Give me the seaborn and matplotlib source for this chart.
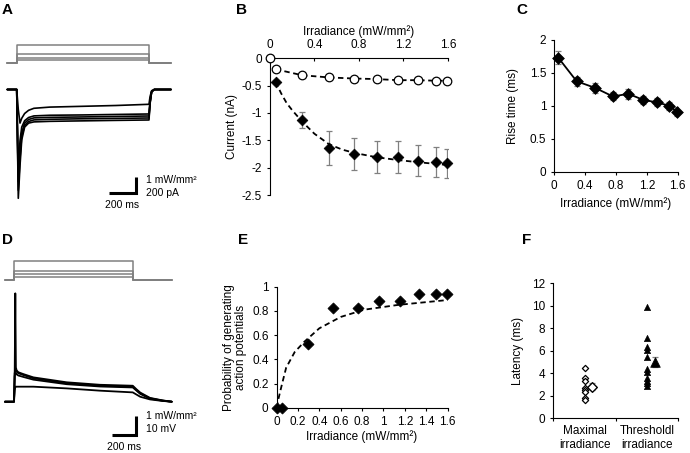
import numpy as np
import pandas as pd
import seaborn as sns
import matplotlib.pyplot as plt
from matplotlib.ticker import FuncFormatter, FixedLocator

# ---- data ----
irr = [0.05, 0.29, 0.53, 0.76, 0.96, 1.15, 1.33, 1.49, 1.59]  # mW/mm2

# B: peak / steady state current (nA)
b_peak = [-0.43, -1.13, -1.64, -1.75, -1.81, -1.80, -1.87, -1.90, -1.92]
b_peak_err = [0.04, 0.15, 0.31, 0.30, 0.29, 0.29, 0.28, 0.27, 0.27]
b_ss_x = [0.0, 0.05, 0.29, 0.53, 0.76, 0.96, 1.15, 1.33, 1.49, 1.59]
b_ss = [0.0, -0.20, -0.31, -0.35, -0.37, -0.38, -0.40, -0.40, -0.41, -0.41]
b_fit_x = [0.05, 0.1, 0.15, 0.2, 0.29, 0.4, 0.53, 0.65, 0.76, 0.96, 1.15, 1.33, 1.59]
b_fit_y = [-0.43, -0.64, -0.82, -0.95, -1.16, -1.38, -1.57, -1.67, -1.73, -1.81, -1.86, -1.90, -1.95]

# C: rise time (ms)
c_rise = [1.73, 1.37, 1.27, 1.14, 1.18, 1.09, 1.05, 1.00, 0.91]
c_rise_err = [0.10, 0.07, 0.08, 0.06, 0.08, 0.06, 0.06, 0.06, 0.07]

# E: probability of action potentials
e_x = [0.0, 0.05, 0.29, 0.53, 0.76, 0.96, 1.15, 1.33, 1.49, 1.59]
e_prob = [0.0, 0.0, 0.53, 0.82, 0.82, 0.88, 0.88, 0.94, 0.94, 0.94]
e_fit_x = [0.0, 0.02, 0.05, 0.09, 0.17, 0.26, 0.4, 0.6, 0.82, 1.14, 1.6]
e_fit_y = [0.0, 0.08, 0.19, 0.33, 0.46, 0.545, 0.656, 0.75, 0.81, 0.85, 0.89]

# F: latency (ms)
lat_max = [4.5, 3.55, 3.34, 2.66, 2.51, 2.31, 1.83, 1.63]
lat_thr = [9.91, 7.16, 6.36, 6.07, 5.47, 4.35, 4.14, 3.55, 3.31, 3.11, 2.90]
lat_mean = [2.81, 4.97]
lat_sem = [0.3, 0.45]
f_labels = ['Maximal\nirradiance', 'Thresholdl\nirradiance']

# stimulus (mW/mm2), on at 0 ms, off at 1000 ms
stim_levels = [1.0, 0.5, 0.31, 0.17]
stim_on, stim_off = 0, 1000

# A: photocurrents (pA)
a_t = [-71, 0, 12, 25, 38, 60, 90, 130, 250, 500, 750, 1000, 1008, 1020, 1040, 1166]
a_traces = [
    [0, 0, -250, -420, -360, -300, -260, -235, -220, -210, -200, -185, -90, -15, 0, 0],
    [0, 0, -1000, -640, -470, -390, -350, -330, -322, -318, -312, -306, -150, -25, 0, 0],
    [0, 0, -1150, -760, -540, -420, -375, -355, -348, -343, -337, -331, -160, -28, 0, 0],
    [0, 0, -1260, -860, -590, -450, -400, -380, -372, -366, -361, -356, -170, -30, 0, 0],
    [0, 0, -1360, -950, -630, -470, -420, -405, -398, -392, -386, -381, -180, -32, 0, 0],
]

# D: membrane potential (mV, from rest)
d_t = [-76, 0, 6, 11, 16, 22, 36, 80, 163, 444, 724, 1000, 1030, 1063, 1145, 1250, 1328]
d_traces = [
    [0, 0, 16, 57, 18, 16.5, 15.5, 14.5, 12.8, 10.2, 8.9, 8.4, 6.6, 4.8, 2.0, 0.7, 0],
    [0, 0, 15, 16.5, 16.5, 15.8, 15, 14, 12.3, 9.7, 8.4, 7.9, 6.2, 4.4, 1.8, 0.6, 0],
    [0, 0, 13.5, 15, 15, 14.4, 13.8, 13, 11.6, 9.2, 8.0, 7.5, 5.9, 4.1, 1.6, 0.5, 0],
    [0, 0, 6, 7.9, 7.9, 7.9, 7.9, 7.9, 7.9, 7.0, 5.8, 4.9, 3.8, 2.6, 1.2, 0.4, 0],
]

sns.set_style('ticks')
plt.rcParams['font.family'] = ['Liberation Sans', 'DejaVu Sans']
plt.rcParams.update({
    'font.size': 8.5, 'axes.unicode_minus': False,
    'axes.edgecolor': 'black', 'axes.linewidth': 0.8,
    'xtick.color': 'black', 'ytick.color': 'black',
    'text.color': 'black', 'axes.labelcolor': 'black',
    'xtick.major.size': 2.2, 'ytick.major.size': 2.2,
    'xtick.major.width': 0.8, 'ytick.major.width': 0.8,
    'xtick.labelsize': 8.5, 'ytick.labelsize': 8.5, 'axes.labelsize': 8.5,
})

W, H = 690, 453
fig = plt.figure(figsize=(W / 100, H / 100), dpi=100)
fmt = FuncFormatter(lambda v, p: '%g' % round(v, 3))
GRAY = '#808080'


def box(x0, y0, x1, y1):
    return fig.add_axes([x0 / W, 1 - y1 / H, (x1 - x0) / W, (y1 - y0) / H])


def trace_axes(x0, x1, y0, y1, t_px, t0, u_px, base):
    ax = box(x0, y0, x1, y1)
    ax.set_xlim((x0 - t0) * t_px, (x1 - t0) * t_px)
    ax.set_ylim((base - y1) * u_px, (base - y0) * u_px)
    ax.axis('off')
    return ax


def draw_stim(ax, t0, t1):
    for lvl in stim_levels:
        sns.lineplot(x=[t0, stim_on, stim_on, stim_off, stim_off, t1],
                     y=[0, 0, lvl, lvl, 0, 0], ax=ax, color=GRAY, lw=1.1,
                     sort=False, estimator=None, clip_on=False)


def scale_bar(ax, x, y, dx, dy, lab_top, lab_bot, lab_t, tx, ty_top, ty_bot, ty_t):
    ax.plot([x - dx, x, x], [y, y, y + dy], color='k', lw=2.2,
            solid_capstyle='butt', solid_joinstyle='miter', clip_on=False)
    ax.text(tx, ty_top, lab_top, ha='left', va='center', fontsize=7.5)
    ax.text(tx, ty_bot, lab_bot, ha='left', va='center', fontsize=7.5)
    ax.text(x - dx / 2, ty_t, lab_t, ha='center', va='center', fontsize=7.5)


# ---- A ----
a_tpx, a_upx = 7.56, 12.5
axa_s = trace_axes(0, 180, 38, 70, a_tpx, 16.7, 1 / 18.3, 63.3)
draw_stim(axa_s, a_t[0], a_t[-1])
axa = trace_axes(0, 180, 80, 215, a_tpx, 16.7, a_upx, 89.5)
for tr in a_traces:
    sns.lineplot(x=a_t, y=tr, ax=axa, color='k', lw=1.2, sort=False, estimator=None)
scale_bar(axa, 902, -1294, 204, 200, '1 mW/mm²', '200 pA', '200 ms',
          977, -1137, -1290, -1444)

# ---- D ----
d_tpx, d_upx = 8.42, 0.526
axd_s = trace_axes(0, 180, 252, 285, d_tpx, 14, 1 / 19.3, 280.3)
draw_stim(axd_s, d_t[0], d_t[-1])
axd = trace_axes(0, 180, 285, 455, d_tpx, 14, d_upx, 401.7)
for tr in d_traces:
    sns.lineplot(x=d_t, y=tr, ax=axd, color='k', lw=1.3, sort=False, estimator=None)
scale_bar(axd, 1027, -17.5, 200, 10, '1 mW/mm²', '10 mV', '200 ms',
          1111, -7.6, -14.2, -23.7)

# ---- B ----
axb = box(270, 58.3, 447.8, 195)
sns.lineplot(x=b_fit_x, y=b_fit_y, ax=axb, color='k', lw=1.3, linestyle=(0, (3, 2)),
             sort=False, estimator=None)
sns.lineplot(x=b_ss_x[1:], y=b_ss[1:], ax=axb, color='k', lw=1.3, linestyle=(0, (3, 2)),
             sort=False, estimator=None)
axb.errorbar(irr, b_peak, yerr=b_peak_err, fmt='none', ecolor=GRAY, elinewidth=0.9,
             capsize=2, capthick=0.9, zorder=3)
sns.scatterplot(x=b_ss_x, y=b_ss, ax=axb, marker='o', s=38, facecolor='white',
                edgecolor='k', linewidth=0.9, zorder=4, clip_on=False)
sns.scatterplot(x=irr, y=b_peak, ax=axb, marker='D', s=30, color='k',
                edgecolor='k', linewidth=0.5, zorder=4, clip_on=False)
axb.set_xlim(0, 1.6)
axb.set_ylim(-2.5, 0)
axb.xaxis.tick_top()
axb.xaxis.set_label_position('top')
axb.set_xticks(np.arange(0, 1.61, 0.4))
axb.set_yticks(np.arange(-2.5, 0.01, 0.5))
axb.xaxis.set_major_formatter(fmt)
axb.yaxis.set_major_formatter(fmt)
axb.tick_params(axis='x', direction='in', pad=5)
axb.spines['bottom'].set_visible(False)
axb.spines['right'].set_visible(False)
axb.set_xlabel('Irradiance (mW/mm²)', labelpad=3)
axb.set_ylabel('Current (nA)', labelpad=3)

# ---- C ----
axc = box(554.3, 39.7, 677.7, 171.7)
axc.errorbar(irr, c_rise, yerr=c_rise_err, fmt='none', ecolor=GRAY, elinewidth=0.9,
             capsize=2, capthick=0.9, zorder=2)
sns.lineplot(x=irr, y=c_rise, ax=axc, color='k', lw=1.3, sort=False, estimator=None)
sns.scatterplot(x=irr, y=c_rise, ax=axc, marker='D', s=36, color='k',
                edgecolor='k', linewidth=0.5, zorder=4, clip_on=False)
axc.set_xlim(0, 1.6)
axc.set_ylim(0, 2)
axc.set_xticks(np.arange(0, 1.61, 0.4))
axc.set_yticks(np.arange(0, 2.01, 0.5))
axc.xaxis.set_major_formatter(fmt)
axc.yaxis.set_major_formatter(fmt)
sns.despine(ax=axc)
axc.set_xlabel('Irradiance (mW/mm²)', labelpad=4)
axc.set_ylabel('Rise time (ms)', labelpad=8)

# ---- E ----
axe = box(276.5, 286.7, 447.7, 407.7)
sns.lineplot(x=e_fit_x, y=e_fit_y, ax=axe, color='k', lw=1.3, linestyle=(0, (3, 2)),
             sort=False, estimator=None)
sns.scatterplot(x=e_x, y=e_prob, ax=axe, marker='D', s=32, color='k',
                edgecolor='k', linewidth=0.5, zorder=4, clip_on=False)
axe.set_xlim(0, 1.6)
axe.set_ylim(0, 1)
axe.set_xticks(np.arange(0, 1.61, 0.2))
axe.set_yticks(np.arange(0, 1.01, 0.2))
axe.xaxis.set_major_formatter(fmt)
axe.yaxis.set_major_formatter(fmt)
sns.despine(ax=axe)
axe.set_xlabel('Irradiance (mW/mm²)', labelpad=2)
axe.set_ylabel('Probability of generating\naction potentials', labelpad=4, linespacing=1.0)

# ---- F ----
axf = box(553.3, 283, 678.3, 418.3)
sns.scatterplot(x=[0] * len(lat_max), y=lat_max, ax=axf, marker='D', s=10,
                facecolor='white', edgecolor='k', linewidth=0.9, zorder=3)
sns.scatterplot(x=[1] * len(lat_thr), y=lat_thr, ax=axf, marker='^', s=20,
                color='k', edgecolor='k', linewidth=0.5, zorder=3)
axf.errorbar([0.12, 1.12], lat_mean, yerr=lat_sem, fmt='none', ecolor=GRAY,
             elinewidth=0.9, capsize=2, capthick=0.9, zorder=2)
sns.scatterplot(x=[0.12], y=lat_mean[:1], ax=axf, marker='D', s=24,
                facecolor='white', edgecolor='k', linewidth=1.0, zorder=4)
sns.scatterplot(x=[1.12], y=lat_mean[1:], ax=axf, marker='^', s=48,
                color='k', edgecolor='k', linewidth=0.5, zorder=4)
axf.set_xlim(-0.5, 1.5)
axf.set_ylim(0, 12)
axf.set_xticks([0, 1])
axf.set_xticklabels(f_labels)
axf.xaxis.set_minor_locator(FixedLocator([-0.5, 0.5, 1.5]))
axf.tick_params(axis='x', which='major', length=0, pad=5)
axf.tick_params(axis='x', which='minor', length=2.2, width=0.8, direction='out')
axf.set_yticks(np.arange(0, 12.1, 2))
axf.yaxis.set_major_formatter(fmt)
sns.despine(ax=axf)
axf.set_xlabel('')
axf.set_ylabel('Latency (ms)', labelpad=6)

# ---- panel letters ----
for lab, x, y in [('A', 7.3, 10), ('B', 241.7, 10), ('C', 521.7, 10),
                  ('D', 7.3, 240), ('E', 243.3, 240), ('F', 526.7, 240)]:
    fig.text(x / W, 1 - y / H, lab, fontsize=11, fontweight='bold', ha='center', va='center')

fig.savefig('out.png', dpi=100)
